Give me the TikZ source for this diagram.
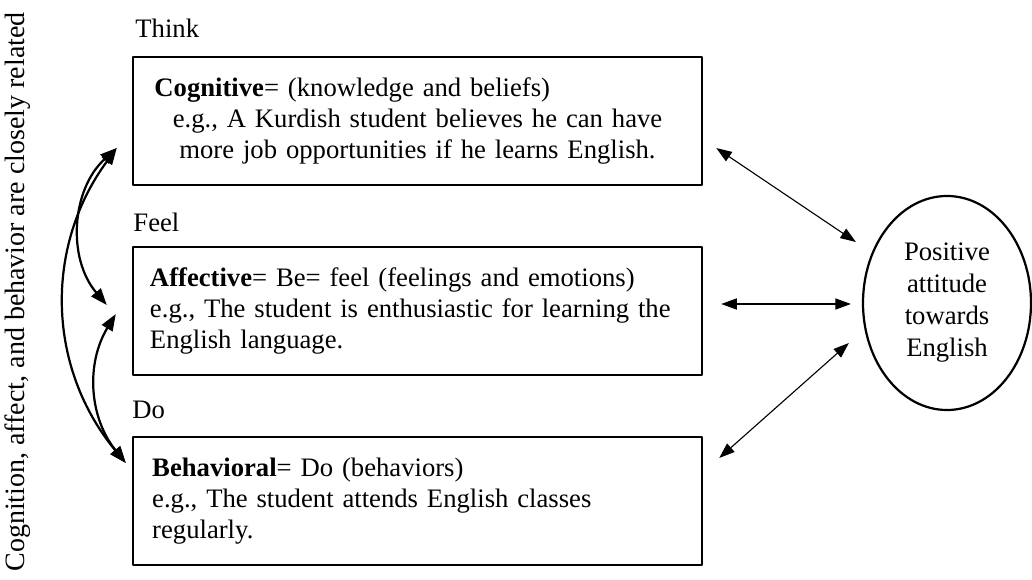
\documentclass[tikz,border=0pt]{standalone}
\usepackage{fontspec}
\setmainfont{Liberation Serif}
\usetikzlibrary{arrows.meta,shapes.geometric}

\begin{document}
\begin{tikzpicture}[x=0.45pt,y=-0.45pt,font=\fontsize{12}{14}\selectfont,line join=round,
	attbox/.style={draw,line width=1.1pt,minimum width=256pt,minimum height=57.6pt,inner xsep=7.65pt,text width=240.75pt},
	link/.style={line width=0.5pt,{Triangle[length=7pt,width=5pt]}-{Triangle[length=7pt,width=5pt]}},
	bond/.style={line width=1pt,{Triangle[length=7.5pt,width=5.5pt]}-{Triangle[length=7.5pt,width=5.5pt]}}]
	\useasboundingbox (0,0) rectangle (1032,580);
	\node[rotate=90,font=\fontsize{12.6}{15}\selectfont] (rel) at (18,292) {Cognition, affect, and behavior are closely related};
	\node[anchor=west,inner sep=0pt] (think) at (135,28) {Think};
	\node[anchor=west,inner sep=0pt] (feel) at (133,222) {Feel};
	\node[anchor=west,inner sep=0pt] (do) at (132,410) {Do};
	\node[attbox,align=center] (cog) at (417.5,121) {\makebox[\linewidth][l]{\hspace{2pt}\textbf{Cognitive}= (knowledge and beliefs)}\\e.g., A Kurdish student believes he can have\\more job opportunities if he learns English.};
	\node[attbox,align=left] (aff) at (417.5,311) {\textbf{Affective}= Be= feel (feelings and emotions)\\e.g., The student is enthusiastic for learning the\\English language.};
	\node[attbox,align=left] (beh) at (417.5,501) {\hspace{1pt}\textbf{Behavioral}= Do (behaviors)\\\hspace{1pt}e.g., The student attends English classes\\\hspace{1pt}regularly.};
	\node[draw,ellipse,line width=1pt,minimum width=75.6pt,minimum height=96.3pt,inner sep=0pt,align=center,font=\fontsize{12}{14.4}\selectfont] (att) at (947,303) {Positive\\attitude\\towards\\English};
	\draw[link] ([shift={(13,27)}]cog.east) -- ([shift={(-6,-61)}]att.west);
	\draw[link] ([shift={(18,-7)}]aff.east) -- ([shift={(-11,1)}]att.west);
	\draw[link] ([shift={(16,-43)}]beh.east) -- ([shift={(-13,40)}]att.west);
	\draw[bond] ([shift={(-15,27)}]cog.west) to[bend right=44] ([shift={(-25,-6)}]aff.west);
	\draw[bond] ([shift={(-16,3)}]aff.west) to[bend right=35] ([shift={(-6,-38)}]beh.west);
	\draw[bond] ([shift={(-15,27)}]cog.west) to[bend right=38] ([shift={(-6,-38)}]beh.west);
\end{tikzpicture}
\end{document}
